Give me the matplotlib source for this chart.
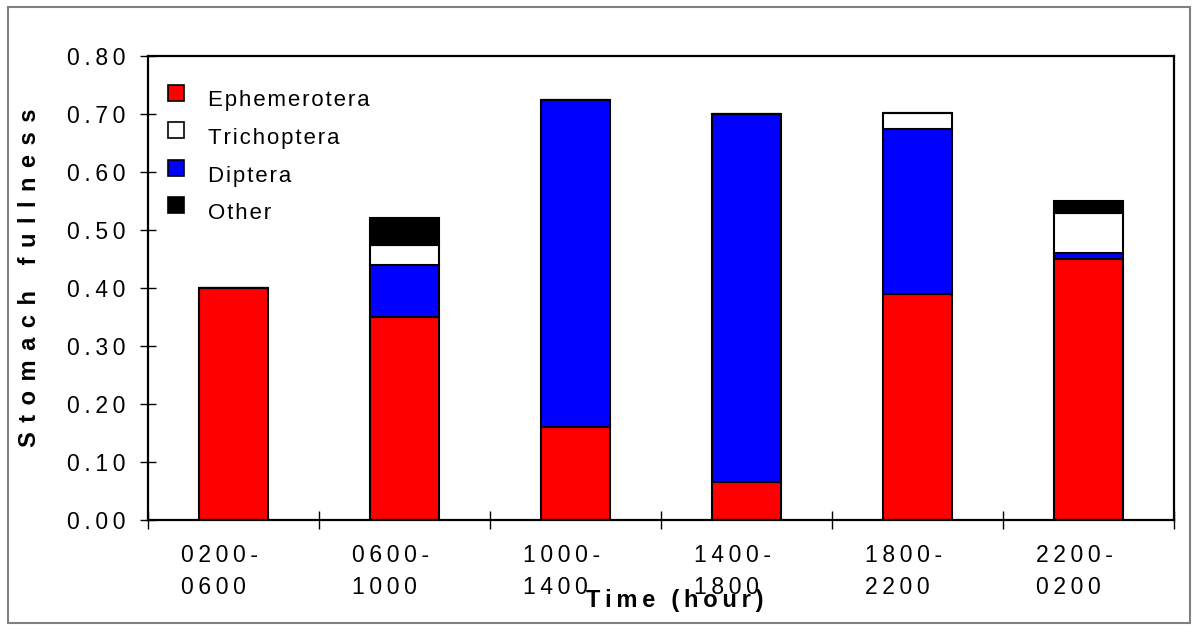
import matplotlib
matplotlib.use("Agg")
import matplotlib.pyplot as plt
from matplotlib.patches import Rectangle, Patch
from matplotlib.legend_handler import HandlerPatch
import matplotlib.transforms as mtransforms
import numpy as np

plt.rcParams['font.family'] = ['Liberation Sans', 'DejaVu Sans']

categories = ['0200-\n0600', '0600-\n1000', '1000-\n1400', '1400-\n1800', '1800-\n2200', '2200-\n0200']
ephemerotera = [0.40, 0.35, 0.16, 0.065, 0.39, 0.45]
diptera = [0.0, 0.09, 0.565, 0.635, 0.285, 0.01]
trichoptera = [0.0, 0.035, 0.0, 0.0, 0.027, 0.07]
other = [0.0, 0.045, 0.0, 0.0, 0.0, 0.02]
yticks = [0.0, 0.1, 0.2, 0.3, 0.4, 0.5, 0.6, 0.7, 0.8]

TS = '\u2009'
HS = '\u200a'


def spaced(s, sep=TS):
    return '\n'.join(sep.join(line) for line in s.split('\n'))


fig = plt.figure(figsize=(11.98, 6.29), dpi=100)
W, H = 1198, 629
ax = fig.add_axes([148 / W, (H - 520) / H, (1174 - 148) / W, (520 - 56) / H])

# figure border
fig.patches.append(Rectangle((8 / W, 6 / H), (1190 - 8) / W, (622 - 6) / H,
                             transform=fig.transFigure, fill=False,
                             edgecolor='#808080', linewidth=1.5, zorder=0))

x = np.arange(len(categories))
bw = 0.40
kw = dict(width=bw, edgecolor='black', linewidth=1.5)
ax.bar(x, ephemerotera, color='#FF0000', label='Ephemerotera', **kw)
bottom = np.array(ephemerotera)
ax.bar(x, diptera, bottom=bottom, color='#0000FF', label='Diptera', **kw)
bottom = bottom + np.array(diptera)
ax.bar(x, trichoptera, bottom=bottom, color='white', label='Trichoptera', **kw)
bottom = bottom + np.array(trichoptera)
ax.bar(x, other, bottom=bottom, color='black', label='Other', **kw)

ax.set_xlim(-0.5, len(categories) - 0.5)
ax.set_ylim(0, 0.8)

for sp in ax.spines.values():
    sp.set_linewidth(1.6)
    sp.set_color('black')

ax.set_yticks(yticks)
ax.set_yticklabels([spaced(f'{v:.2f}') for v in yticks], fontsize=16.5)
ax.tick_params(axis='y', direction='inout', length=12, width=1, pad=10)

ax.set_xticks(np.arange(len(categories) + 1) - 0.5)
ax.set_xticklabels([])
ax.tick_params(axis='x', which='major', direction='inout', length=13, width=1)
ax.set_xticks(x, minor=True)
ax.set_xticklabels([spaced(c) for c in categories], minor=True, fontsize=16.5,
                   multialignment='left', linespacing=1.5)
ax.tick_params(axis='x', which='minor', length=0, pad=17)
off = mtransforms.ScaledTranslation(-14 / 100, 0, fig.dpi_scale_trans)
for lab in ax.get_xticklabels(minor=True):
    lab.set_transform(lab.get_transform() + off)

fig.text(30 / W, 1 - 278 / H, spaced('Stomach fullness', TS + TS), rotation=90,
         fontsize=17, fontweight='bold', ha='center', va='center')
fig.text(675 / W, 1 - 600 / H, spaced('Time (hour)', TS), fontsize=17,
         fontweight='bold', ha='center', va='center')


def make_patch(legend, orig_handle, xdescent, ydescent, width, height, fontsize):
    s = 11.5
    return Rectangle((-xdescent, -ydescent + 5), s, s)


handles = [Patch(facecolor='#FF0000', edgecolor='black', linewidth=1.2),
           Patch(facecolor='white', edgecolor='black', linewidth=1.2),
           Patch(facecolor='#0000FF', edgecolor='black', linewidth=1.2),
           Patch(facecolor='black', edgecolor='black', linewidth=1.2)]
labels = [spaced(s, HS) for s in ['Ephemerotera', 'Trichoptera', 'Diptera', 'Other']]
ax.legend(handles, labels, loc='upper left', bbox_to_anchor=(0.0, 0.97),
          frameon=False, fontsize=16, handlelength=0.85, handleheight=0.85,
          handletextpad=0.95, labelspacing=0.72, borderaxespad=0.5,
          handler_map={Patch: HandlerPatch(patch_func=make_patch)})

fig.savefig('out.png', dpi=100)
